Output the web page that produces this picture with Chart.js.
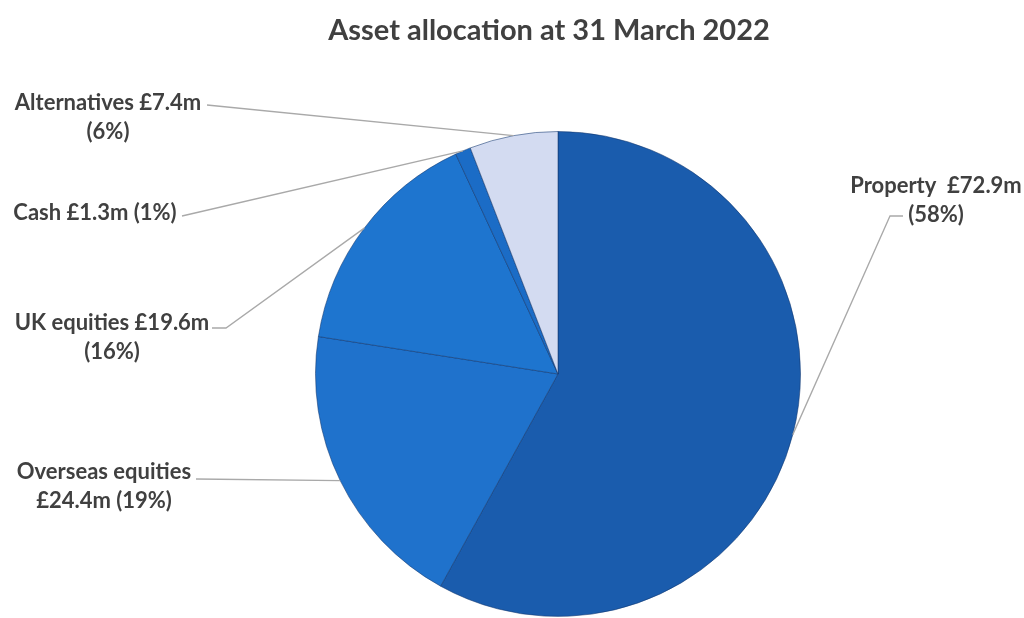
<!DOCTYPE html>
<html>
<head>
<meta charset="utf-8">
<script src="https://cdn.jsdelivr.net/npm/chart.js@4.4.1/dist/chart.umd.min.js"></script>
<style>
  html, body { margin: 0; padding: 0; background: #fff; }
  #wrap { width: 1024px; height: 618px; position: relative; }
</style>
</head>
<body>
<div id="wrap"><canvas id="grafico"></canvas></div>
<script>
// dados
const categorias = ["Property", "Overseas equities", "UK equities", "Cash", "Alternatives"];
const valores = [72.9, 24.4, 19.6, 1.3, 7.4];      // £m
const percentuais = [58, 19, 16, 1, 6];           // % mostrado no rotulo
const cores = ["#1a5cad", "#1f72cc", "#1e75cf", "#1b6cc6", "#d3dbf1"];
const titulo = "Asset allocation at 31 March 2022";

// posicao dos rotulos (layout, nao dados)
// quebra: 0 = nome+valor / pct ; 1 = tudo em uma linha ; 2 = nome / valor+pct
const layoutRotulos = [
  { x: 936, y: 186, quebra: 0, linha: [[903, 216], [890, 216]], gap: "  " },
  { x: 104, y: 472, quebra: 2, linha: [[196, 479]] },
  { x: 112, y: 323, quebra: 0, linha: [[212, 328], [226, 328]] },
  { x: 95,  y: 213, quebra: 1, linha: [[182, 216]] },
  { x: 108, y: 103, quebra: 0, linha: [[207, 105]] }
];

function textoRotulo(i) {
  const nome = categorias[i];
  const v = "£" + valores[i].toFixed(1) + "m";
  const p = "(" + percentuais[i] + "%)";
  const q = layoutRotulos[i].quebra;
  const gap = layoutRotulos[i].gap || " ";
  if (q === 1) return [nome + " " + v + " " + p];
  if (q === 2) return [nome, v + " " + p];
  return [nome + gap + v, p];
}

const pluginRotulos = {
  id: "rotulos",
  afterDatasetsDraw(chart) {
    const ctx = chart.ctx;
    const meta = chart.getDatasetMeta(0);
    ctx.save();
    // titulo
    ctx.fillStyle = "#404040";
    ctx.font = "bold 29px Lato";
    ctx.textAlign = "center";
    ctx.textBaseline = "middle";
    ctx.fillText(titulo, 549, 31);

    meta.data.forEach((arc, i) => {
      const lay = layoutRotulos[i];
      const a = (arc.startAngle + arc.endAngle) / 2;
      const ax = arc.x + Math.cos(a) * arc.outerRadius;
      const ay = arc.y + Math.sin(a) * arc.outerRadius;

      ctx.strokeStyle = "#a9a9a9";
      ctx.lineWidth = 1.3;
      ctx.beginPath();
      ctx.moveTo(lay.linha[0][0], lay.linha[0][1]);
      lay.linha.slice(1).forEach(p => ctx.lineTo(p[0], p[1]));
      ctx.lineTo(ax, ay);
      ctx.stroke();

      ctx.fillStyle = "#404040";
      ctx.font = "bold 22px Lato";
      textoRotulo(i).forEach((t, k) => {
        ctx.fillText(t, lay.x, lay.y + k * 29);
      });
    });
    ctx.restore();
  }
};

const ctx = document.getElementById("grafico").getContext("2d");
new Chart(ctx, {
  type: "pie",
  data: {
    labels: categorias,
    datasets: [{
      data: valores,
      backgroundColor: cores,
      borderColor: "rgba(18,55,110,0.55)",
      borderWidth: 1
    }]
  },
  options: {
    responsive: true,
    maintainAspectRatio: false,
    animation: false,
    layout: { padding: { top: 131, bottom: 1, left: 100, right: 8 } },
    plugins: {
      legend: { display: false },
      tooltip: { enabled: false }
    }
  },
  plugins: [pluginRotulos]
});
</script>
</body>
</html>
